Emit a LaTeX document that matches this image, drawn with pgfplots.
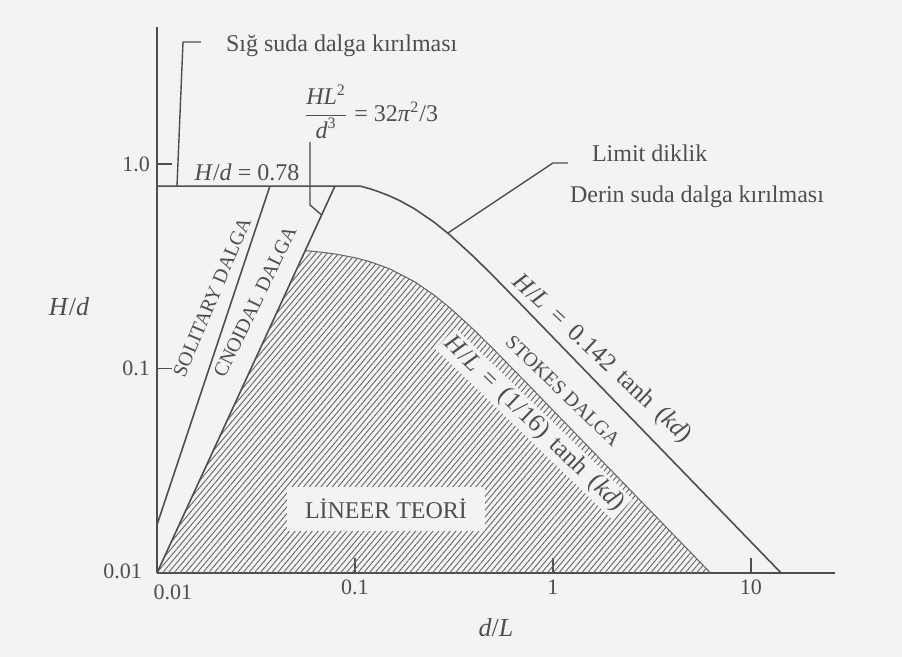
\documentclass[border=0pt]{standalone}
\usepackage{fontspec}
\setmainfont{Liberation Serif}
\usepackage{pgfplots}
\usepackage{pgfplotstable}
\pgfplotsset{compat=1.18}
\usetikzlibrary{patterns.meta}

\definecolor{paper}{RGB}{243,243,242}
\definecolor{ink}{RGB}{78,78,78}
\definecolor{hatch}{RGB}{100,100,100}

% Limit steepness: H/d = 0.78 in shallow water, H/L = 0.142 tanh(kd) beyond
\pgfplotstableread{
x y
0.01 0.78
0.106 0.78
0.11 0.7729
0.12 0.7545
0.13 0.7355
0.15 0.6971
0.17 0.6589
0.2 0.6036
0.25 0.5209
0.3 0.4520
0.4 0.3504
0.5 0.2829
0.7 0.2028
1 0.1420
2 0.0710
5 0.0284
14.2 0.0100
}\steepness

% Linear-theory region: bounded by HL^2/d^3 = 32pi^2/3, H/L = (1/16) tanh(kd) and H/d = 0.01
\pgfplotstableread{
x y
0.01 0.01
0.0568 0.3768
0.06 0.3751
0.07 0.3691
0.08 0.3627
0.1 0.3481
0.12 0.3321
0.15 0.3069
0.2 0.2657
0.25 0.2293
0.3 0.1990
0.4 0.1542
0.5 0.1245
0.7 0.0893
1 0.0625
2 0.03125
6.25 0.01
}\linearregion

\pgfplotstableread{
x y
0.0568 0.3768
0.06 0.3751
0.07 0.3691
0.08 0.3627
0.1 0.3481
0.12 0.3321
0.15 0.3069
0.2 0.2657
0.25 0.2293
0.3 0.1990
0.4 0.1542
0.5 0.1245
0.7 0.0893
1 0.0625
2 0.03125
6.25 0.01
}\linearlimit

\tikzset{px/.style={x=0.5pt,y=-0.5pt,shift={(-78.5pt,286.5pt)}}}

\begin{document}
\begin{tikzpicture}
\begin{scope}[px]
  \fill[paper] (0,0) rectangle (902,657);
\end{scope}

\begin{axis}[
  at={(0,0)}, anchor=south west,
  scale only axis, width=339pt, height=273pt,
  xmode=log, ymode=log,
  xmin=0.01, xmax=26.57, ymin=0.01, ymax=4.677,
  axis x line=bottom, axis y line=left,
  axis line style={-, ink, line width=0.8pt},
  xtick={0.1,1,10}, xticklabels={0.1,1,10},
  ytick={0.1,1}, yticklabels={0.1,1.0},
  tick align=inside, major tick length=7.5pt, minor tick length=0pt,
  tick style={ink, line width=0.8pt},
  ticklabel style={font=\fontsize{11}{13}\selectfont, text=ink},
  clip=false,
]
  % hatched linear-theory region
  \addplot[draw=none, pattern={Lines[angle=50,distance=2.2pt,line width=0.45pt]}, pattern color=hatch]
    table {\linearregion} -- cycle;
  \addplot[hatch, line width=0.5pt] table {\linearlimit};
  % breaking limit
  \addplot[ink, line width=0.8pt] table {\steepness};
  % HL^2/d^3 = 32 pi^2/3
  \addplot[ink, line width=0.8pt] coordinates {(0.01,0.01) (0.0792,0.78)};
  % solitary / cnoidal boundary
  \addplot[ink, line width=0.8pt] coordinates {(0.01,0.0172) (0.0372,0.78)};
\end{axis}

\begin{scope}[px, every node/.style={text=ink}]
  % leader lines
  \draw[ink, line width=0.7pt] (177,186) -- (183,42) -- (201,42);
  \draw[ink, line width=0.7pt] (310,142) -- (310,205) -- (321.6,215);
  \draw[ink, line width=0.7pt] (448,233) -- (553,163) -- (568,163);

  \node[anchor=west, font=\fontsize{12}{14}\selectfont] at (219,46) {Sığ suda dalga kırılması};
  \node[font=\fontsize{12}{14}\selectfont] at (371,112)
    {$\displaystyle\frac{\mbox{\itshape HL}^{\mbox{\fontsize{8}{8}\selectfont 2}}}{\mbox{\itshape d}^{\mbox{\fontsize{8}{8}\selectfont 3}}}$ = 32\textit{π}\textsuperscript{2}/3};
  \node[font=\fontsize{12}{14}\selectfont] at (247,172) {\textit{H}/\textit{d} = 0.78};
  \node[anchor=west, font=\fontsize{12}{14}\selectfont] at (585,153) {Limit diklik};
  \node[anchor=west, font=\fontsize{12}{14}\selectfont] at (563,197) {Derin suda dalga kırılması};

  \node[rotate=67, font=\fontsize{10}{12}\selectfont] at (212,297) {SOLITARY DALGA};
  \node[rotate=64, font=\fontsize{10}{12}\selectfont] at (255,302) {CNOIDAL DALGA};
  \node[rotate=-43, font=\fontsize{12.5}{14}\selectfont] at (602,359) {\textit{H}/\textit{L} \,=\, 0.142 \,tanh \,(\textit{kd})};
  \node[rotate=-44, font=\fontsize{10}{12}\selectfont] at (563,391) {STOKES DALGA};
  \node[rotate=-44, fill=paper, inner sep=1.5pt, font=\fontsize{12.5}{14}\selectfont] at (534,424) {\textit{H}/\textit{L} \,=\, (1/16) \,tanh \,(\textit{kd})};

  \node[fill=paper, inner xsep=9pt, inner ysep=6pt, font=\fontsize{12}{14}\selectfont] at (386,509) {LİNEER TEORİ};

  \node[font=\fontsize{13}{15}\selectfont] at (69,307) {\textit{H}/\textit{d}};
  \node[font=\fontsize{13}{15}\selectfont] at (496,628) {\textit{d}/\textit{L}};
  \node[anchor=east, font=\fontsize{11}{13}\selectfont] at (149,571) {0.01};
  \node[font=\fontsize{11}{13}\selectfont] at (173,592) {0.01};

  \pgfresetboundingbox
  \useasboundingbox (0,0) rectangle (902,657);
\end{scope}
\end{tikzpicture}
\end{document}
